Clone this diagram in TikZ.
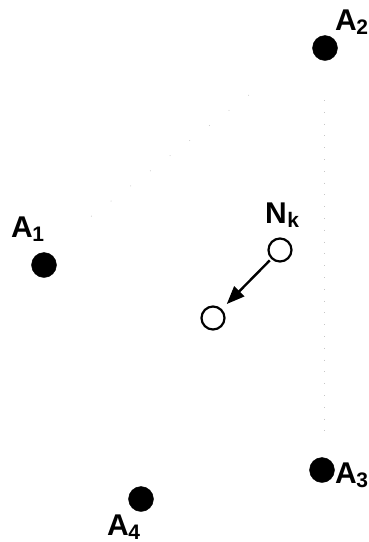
\documentclass[tikz,border=0pt]{standalone}
\usepackage{fontspec}
\setmainfont{Liberation Sans}
\usetikzlibrary{arrows.meta}
\newcommand{\lab}[2]{A\kern-0.5pt\raisebox{-4pt}{\fontsize{21}{21}\selectfont #2}}
\newcommand{\labN}{N\kern0.5pt\raisebox{-4pt}{\fontsize{21}{21}\selectfont k}}
\tikzset{
  dot/.style={circle,fill=black,draw=black,minimum size=25pt,inner sep=0pt},
  ring/.style={circle,draw=black,line width=2.2pt,minimum size=23pt,inner sep=0pt},
  lbl/.style={anchor=base west,inner sep=0pt,font=\fontsize{30}{30}\selectfont\bfseries},
  arr/.style={line width=2.4pt,-{Triangle[length=18pt,width=14pt]},shorten >=7pt,shorten <=2pt},
  faint/.style={draw=gray!45,line width=0.7pt,dash pattern=on 0.8pt off 11pt}
}
\begin{document}
\begin{tikzpicture}[x=1pt,y=-1pt]
\useasboundingbox (0,0) rectangle (368,542);
% faint dotted guide lines
\coordinate (v1) at (324,100);
\coordinate (v2) at (324,442);
\coordinate (d1) at (249,95);
\coordinate (d2) at (76,228);
\draw[faint] (v1) -- (v2);
\draw[faint,dash pattern=on 0.8pt off 24pt] (d1) -- (d2);
% points
\node[dot] (A1) at (44,265) {};
\node[dot] (A2) at (325,48) {};
\node[dot] (A3) at (322,470) {};
\node[dot] (A4) at (141,499) {};
\node[ring] (N) at (280,250) {};
\node[ring] (M) at (213,318) {};
% labels
\node[lbl] (L1) at (11,237) {\lab{A}{1}};
\node[lbl] (L2) at (335,30) {\lab{A}{2}};
\node[lbl] (L3) at (335,483) {\lab{A}{3}};
\node[lbl] (L4) at (107,535) {\lab{A}{4}};
\node[lbl] (LN) at (265,223) {\labN};
% arrow
\draw[arr] (N) -- (M);
\end{tikzpicture}
\end{document}
